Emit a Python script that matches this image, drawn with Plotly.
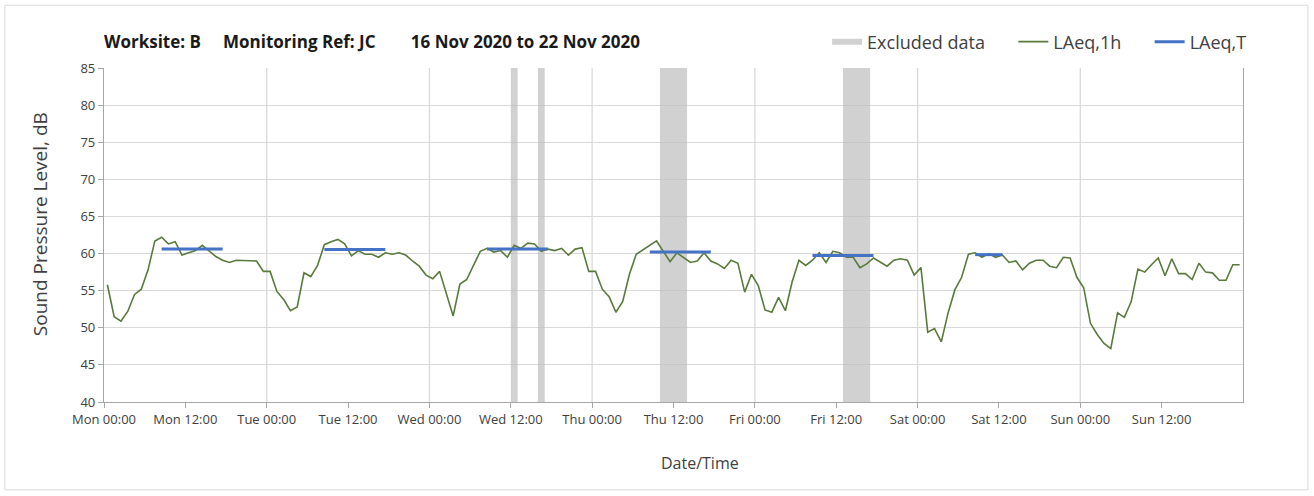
import pandas as pd
import plotly.graph_objects as go

# hourly LAeq,1h values, Mon 16 Nov 2020 00:30 onwards
laeq_1h = [
    55.8, 51.5, 50.9, 52.2, 54.5, 55.2, 57.8, 61.7, 62.2, 61.3, 61.6, 59.8,
    60.1, 60.4, 61.1, 60.4, 59.6, 59.1, 58.8, 59.1, 59.1, 59.0, 59.0, 57.6,
    57.6, 54.9, 53.8, 52.3, 52.8, 57.4, 56.9, 58.4, 61.2, 61.6, 61.9, 61.3,
    59.7, 60.4, 59.9, 59.9, 59.5, 60.1, 59.9, 60.1, 59.8, 59.0, 58.3, 57.1,
    56.6, 57.6, 54.6, 51.6, 55.9, 56.5, 58.4, 60.3, 60.7, 60.2, 60.4, 59.5,
    61.1, 60.7, 61.4, 61.3, 60.3, 60.6, 60.4, 60.7, 59.8, 60.6, 60.8, 57.6,
    57.6, 55.2, 54.2, 52.1, 53.5, 57.2, 59.9, 60.5, 61.2, 61.7, 60.3, 58.9,
    60.1, 59.5, 58.8, 59.0, 60.1, 59.0, 58.6, 58.0, 59.1, 58.7, 54.8, 57.2,
    55.7, 52.4, 52.1, 54.1, 52.3, 56.2, 59.1, 58.4, 59.1, 60.1, 58.8, 60.3,
    60.1, 59.5, 59.5, 58.1, 58.6, 59.4, 58.9, 58.3, 59.1, 59.3, 59.1, 57.1,
    58.1, 49.4, 49.9, 48.1, 52.0, 55.1, 56.8, 59.9, 60.1, 59.5, 60.0, 59.5,
    59.8, 58.8, 59.0, 57.8, 58.7, 59.1, 59.1, 58.3, 58.1, 59.5, 59.4, 56.8,
    55.4, 50.6, 49.1, 47.9, 47.2, 52.0, 51.4, 53.5, 57.9, 57.5, 58.5, 59.4,
    57.0, 59.3, 57.3, 57.3, 56.5, 58.7, 57.5, 57.4, 56.4, 56.4, 58.5, 58.5,
]
hours = pd.date_range("2020-11-16 00:30", periods=len(laeq_1h), freq="h")

# LAeq,T periods
t_start = ["2020-11-16 08:30", "2020-11-17 08:30", "2020-11-18 08:30",
           "2020-11-19 08:30", "2020-11-20 08:30", "2020-11-21 08:30"]
t_end = ["2020-11-16 17:30", "2020-11-17 17:30", "2020-11-18 17:30",
         "2020-11-19 17:30", "2020-11-20 17:30", "2020-11-21 12:30"]
t_value = [60.6, 60.55, 60.6, 60.2, 59.75, 59.85]

# excluded periods
excl_start = ["2020-11-18 12:00", "2020-11-18 16:00", "2020-11-19 10:00", "2020-11-20 13:00"]
excl_end = ["2020-11-18 13:00", "2020-11-18 17:00", "2020-11-19 14:00", "2020-11-20 17:00"]

days = ["Mon", "Tue", "Wed", "Thu", "Fri", "Sat", "Sun"]
day_starts = pd.date_range("2020-11-16", periods=8, freq="D")
tick_vals = pd.date_range("2020-11-16", periods=14, freq="12h")
tick_labels = [f"{d} {t}" for d in days for t in ("00:00", "12:00")]

Y_MIN, Y_MAX = 40, 85
FONT = "Open Sans"
SP = "\u00a0"

fig = go.Figure()

# excluded bands as filled boxes
bx, by = [], []
for s, e in zip(excl_start, excl_end):
    bx += [s, s, e, e, s, None]
    by += [Y_MIN, Y_MAX, Y_MAX, Y_MIN, Y_MIN, None]
fig.add_trace(go.Scatter(
    x=bx, y=by, mode='none', fill='toself',
    fillcolor='rgba(190,190,190,0.7)', name='Excluded data' + SP * 5,
    hoverinfo='skip'
))

fig.add_trace(go.Scatter(
    x=hours, y=laeq_1h, mode='lines', name='LAeq,1h' + SP * 5,
    line=dict(color='#587a3c', width=1.6)
))

lx, ly = [], []
for s, e, v in zip(t_start, t_end, t_value):
    lx += [s, e, None]
    ly += [v, v, None]
fig.add_trace(go.Scatter(
    x=lx, y=ly, mode='lines', name='LAeq,T',
    line=dict(color='#4472c4', width=3)
))

# vertical gridlines at midnight only
shapes = [dict(type='line', xref='x', yref='paper', x0=d, x1=d, y0=0, y1=1,
               line=dict(color='#d9d9d9', width=1.3), layer='below')
          for d in day_starts[1:-1]]
# outer chart border
shapes.append(dict(type='rect', xref='paper', yref='paper',
                   x0=-0.087, x1=1.057, y0=-0.263, y1=1.188,
                   line=dict(color='#d9d9d9', width=1)))

fig.update_layout(
    width=1314, height=496,
    margin=dict(l=104, r=71, t=68, b=94),
    paper_bgcolor='white', plot_bgcolor='white',
    font=dict(family=FONT, color='#404040', size=12),
    shapes=shapes,
    showlegend=True,
    legend=dict(orientation='h', x=1.008, xanchor='right', y=1.078, yanchor='middle',
                font=dict(size=18, color='#404040'), bgcolor='rgba(0,0,0,0)',
                itemwidth=30, tracegroupgap=0),
    annotations=[
        dict(text=f"<b>Worksite: B{SP*5}Monitoring Ref: JC{SP*8}16 Nov 2020 to 22 Nov 2020</b>",
             xref='paper', yref='paper', x=-0.002, y=1.078, xanchor='left', yanchor='middle',
             showarrow=False, font=dict(size=17, color='#1a1a1a', family=FONT)),
        dict(text='Date/Time', xref='paper', yref='paper', x=0.523, y=-0.183,
             xanchor='center', yanchor='middle', showarrow=False,
             font=dict(size=16, color='#404040', family=FONT)),
        dict(text='Sound Pressure Level, dB', xref='paper', yref='paper', x=-0.056, y=0.533,
             xanchor='center', yanchor='middle', textangle=-90, showarrow=False,
             font=dict(size=19, color='#404040', family=FONT)),
    ],
    xaxis=dict(
        type='date', range=[day_starts[0], day_starts[-1]],
        tickvals=tick_vals, ticktext=tick_labels,
        showgrid=False, zeroline=False,
        showline=True, linecolor='#a6a6a6', linewidth=1.3,
        ticks='outside', ticklen=5, tickcolor='#a6a6a6',
        tickfont=dict(size=13, color='#404040'),
    ),
    yaxis=dict(
        range=[Y_MIN, Y_MAX], dtick=5, tick0=40,
        showgrid=True, gridcolor='#d9d9d9', gridwidth=1.3, zeroline=False,
        showline=True, linecolor='#a6a6a6', linewidth=1.3, mirror=True,
        ticks='outside', ticklen=5, tickcolor='#a6a6a6',
        tickfont=dict(size=13, color='#404040'),
    ),
)

fig.write_html("out.html", config={'displayModeBar': False},
               post_script="document.body.style.margin='0px';")
